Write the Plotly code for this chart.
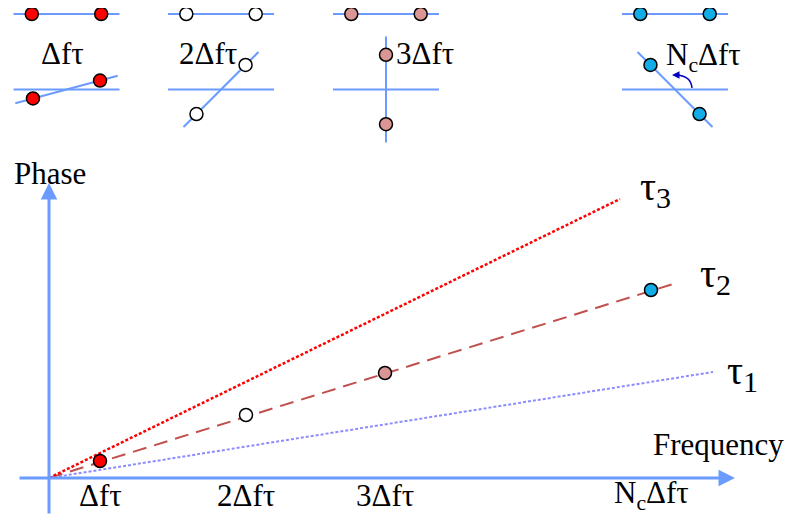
import numpy as np
import plotly.graph_objects as go

# tones on the frequency axis (schematic units) and the phase of the tau2 line there
freq = [51, 197, 336, 602]
phase_tau2 = [17, 63, 105, 188]
point_colors = ['#FF0000', '#FFFFFF', '#D99694', '#12ACE6']
tick_labels = ['Δfτ', '2Δfτ', '3Δfτ', 'N<sub>c</sub>Δfτ']

# the three delay lines (phase grows with frequency)
tau_names = ['1', '2', '3']
tau_end_freq = [664, 624, 571]
tau_end_phase = [106, 194, 279]

# phasor rotation drawn above each tone, degrees
rot_angle = [15, 45, 90, 135]

BLUE = '#6B9BFF'
FONT = 'Times New Roman, Liberation Serif, serif'

fig = go.Figure()

# delay lines
styles = [dict(color='#8C8CFF', width=2, dash='3px,2px'),
          dict(color='#C0504D', width=2, dash='14px,8px'),
          dict(color='#FF0000', width=2.5, dash='3px,2px')]
for f, p, st in zip(tau_end_freq, tau_end_phase, styles):
    fig.add_trace(go.Scatter(x=[0, f], y=[0, p], mode='lines', line=st))

fig.add_trace(go.Scatter(x=freq, y=phase_tau2, mode='markers',
                         marker=dict(size=13, color=point_colors,
                                     line=dict(color='black', width=1.5))))

# small phasor sketches on top
icon_x = [17.5, 172, 337, 626]
top_y, bot_y = 464, 388.5
L, R = 53, 34.7
for cx, ang, col in zip(icon_x, rot_angle, point_colors):
    t = np.radians(ang)
    dx, dy = np.cos(t), np.sin(t)
    ln = dict(color=BLUE, width=2)
    mk = dict(size=13, color=col, line=dict(color='black', width=1.5))
    fig.add_trace(go.Scatter(x=[cx - L, cx + L], y=[top_y, top_y], mode='lines', line=ln))
    fig.add_trace(go.Scatter(x=[cx - R, cx + R], y=[top_y, top_y], mode='markers', marker=mk))
    fig.add_trace(go.Scatter(x=[cx - L, cx + L], y=[bot_y, bot_y], mode='lines', line=ln))
    fig.add_trace(go.Scatter(x=[cx - L * dx, cx + L * dx], y=[bot_y - L * dy, bot_y + L * dy],
                             mode='lines', line=ln))
    fig.add_trace(go.Scatter(x=[cx - R * dx, cx + R * dx], y=[bot_y - R * dy, bot_y + R * dy],
                             mode='markers', marker=mk))

fig.update_traces(cliponaxis=False)

anns = []
# axes with arrow heads
anns.append(dict(x=686, y=0, ax=-31, ay=0, axref='x', ayref='y', text='', showarrow=True,
                 arrowhead=2, arrowsize=1.1, arrowwidth=3, arrowcolor=BLUE))
anns.append(dict(x=0, y=295, ax=0, ay=-37, axref='x', ayref='y', text='', showarrow=True,
                 arrowhead=2, arrowsize=1.1, arrowwidth=3, arrowcolor=BLUE))
# rotation arrow in last sketch
anns.append(dict(x=623, y=403, ax=9, ay=0, text='', showarrow=True,
                 arrowhead=2, arrowsize=1, arrowwidth=1.5, arrowcolor='#0000C0'))

txt = dict(family=FONT, size=31, color='black')
anns.append(dict(x=1, y=305, text='Phase', showarrow=False, font=txt))
anns.append(dict(x=669, y=34, text='Frequency', showarrow=False, font=txt))
for f, lab in zip(freq, tick_labels):
    anns.append(dict(x=f, y=-17, text=lab, showarrow=False, font=txt))

# labels of the sketches
for x, y, lab in zip([13, 159, 376, 654], [425, 425, 425, 421], tick_labels):
    anns.append(dict(x=x, y=y, text=lab, showarrow=False, font=txt))

# tau labels beside the line ends
lab_dx = [12, 25, 18]
lab_y = [105, 202, 289]
for f, dxl, yl, lab in zip(tau_end_freq, lab_dx, lab_y, tau_names):
    anns.append(dict(x=f + dxl, y=yl, xanchor='left', yanchor='middle',
                     text='τ<sub><span style="font-size:30px">' + lab + '</span></sub>',
                     showarrow=False, font=dict(family=FONT, size=40, color='black')))

# page body has an 8px margin, so the figure is 8px smaller and the ranges start there
fig.update_layout(
    width=784, height=510,
    margin=dict(l=0, r=0, t=0, b=0),
    plot_bgcolor='white', paper_bgcolor='white',
    showlegend=False,
    xaxis=dict(range=[-41, 743], visible=False, fixedrange=True),
    yaxis=dict(range=[-40, 470], visible=False, fixedrange=True),
    annotations=anns,
    shapes=[dict(type='path', xref='x', yref='y', path='M 643,390 Q 642,402 628,403',
                 line=dict(color='#0000C0', width=1.5))],
)

fig.write_html("out.html")
